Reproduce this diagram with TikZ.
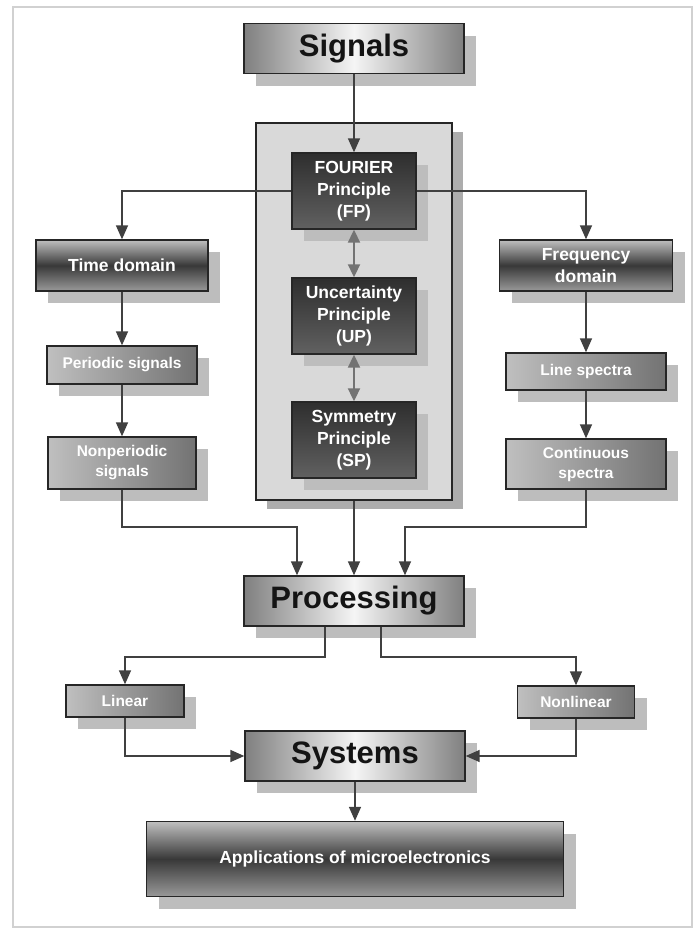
\documentclass[tikz,border=0pt]{standalone}
\usepackage{fontspec}
\setmainfont{Liberation Sans}
\usetikzlibrary{arrows.meta,shadows,calc}
\tikzset{
  box/.style={draw=black!85, line width=1.4pt, rectangle, inner sep=0pt, align=center},
  shd/.style={drop shadow={shadow xshift=12pt, shadow yshift=-12pt, fill=black!26, opacity=1}},
  bigbox/.style={box, shd, minimum width=220pt, minimum height=50pt,
    left color=black!50, right color=black!50, middle color=black!4,
    text=black!92, font=\fontsize{31}{36}\selectfont\bfseries},
  bandbox/.style={box, shd, top color=black!25, bottom color=black!40, middle color=black!78,
    text=white, font=\fontsize{17.5}{22}\selectfont\bfseries},
  midbox/.style={box, shd, left color=black!25, right color=black!55,
    text=white, font=\fontsize{15.5}{20}\selectfont\bfseries},
  darkbox/.style={box, shd, top color=black!82, bottom color=black!62,
    minimum width=124pt, minimum height=76pt,
    text=white, font=\fontsize{17.5}{22}\selectfont\bfseries},
  corebox/.style={draw=black!85, line width=1.8pt, fill=black!15, inner sep=0pt,
    minimum width=196pt, minimum height=377pt,
    drop shadow={shadow xshift=11pt, shadow yshift=-9pt, fill=black!32, opacity=1}},
  conn/.style={draw=black!75, line width=1.6pt, -{Triangle[length=14pt,width=12pt]}},
  dbl/.style={draw=black!55, line width=2pt,
    {Triangle[length=13pt,width=12pt]}-{Triangle[length=13pt,width=12pt]}},
  frame/.style={draw=black!18, line width=2pt}
}
\begin{document}
\begin{tikzpicture}[x=1pt,y=-1pt]
\useasboundingbox (0,0) rectangle (694,930);
\fill[white] (0,0) rectangle (694,930);
\draw[frame] (13,7) rectangle (692,927);

\node[corebox] (core) at (354,311.5) {};

\node[bigbox] (sig) at (354,48.5) {Signals};
\node[darkbox] (fp) at (354,191) {FOURIER\\Principle\\(FP)};
\node[darkbox] (up) at (354,316) {Uncertainty\\Principle\\(UP)};
\node[darkbox] (sp) at (354,440) {Symmetry\\Principle\\(SP)};

\node[bandbox, minimum width=172pt, minimum height=51pt] (time) at (122,265.5) {Time domain};
\node[midbox, minimum width=150pt, minimum height=38pt] (per) at (122,365) {Periodic signals};
\node[midbox, minimum width=148pt, minimum height=52pt] (nonper) at (122,463) {Nonperiodic\\signals};

\node[bandbox, minimum width=173pt, minimum height=51pt] (freq) at (586,265.5) {Frequency\\domain};
\node[midbox, minimum width=160pt, minimum height=37pt] (line) at (586,371.5) {Line spectra};
\node[midbox, minimum width=160pt, minimum height=50pt] (cont) at (586,464) {Continuous\\spectra};

\node[bigbox] (proc) at (354,601) {Processing};
\node[midbox, minimum width=118pt, minimum height=32pt] (lin) at (125,701) {Linear};
\node[midbox, minimum width=117pt, minimum height=32pt] (nonlin) at (576,702) {Nonlinear};
\node[bigbox] (sys) at (355,756) {Systems};
\node[bandbox, minimum width=417pt, minimum height=75pt] (app) at (355,859) {Applications of microelectronics};

\coordinate (j1) at (297,527);
\coordinate (j2) at (405,527);
\coordinate (k1) at (325,657);
\coordinate (k2) at (381,657);

\draw[conn] (sig.south) -- (fp.north);
\draw[conn] (fp.west) -| (time.north);
\draw[conn] (fp.east) -| (freq.north);
\draw[dbl] (fp.south) -- (up.north);
\draw[dbl] (up.south) -- (sp.north);
\draw[conn] (time.south) -- (per.north);
\draw[conn] (per.south) -- (nonper.north);
\draw[conn] (freq.south) -- (line.north);
\draw[conn] (line.south) -- (cont.north);
\draw[conn] (nonper.south) |- (j1) -- (proc.north -| j1);
\draw[conn] (core.south) -- (proc.north);
\draw[conn] (cont.south) |- (j2) -- (proc.north -| j2);
\draw[conn] (proc.south -| k1) -- (k1) -| (lin.north);
\draw[conn] (proc.south -| k2) -- (k2) -| (nonlin.north);
\draw[conn] (lin.south) |- (sys.west);
\draw[conn] (nonlin.south) |- (sys.east);
\draw[conn] (sys.south) -- (app.north);
\end{tikzpicture}
\end{document}
